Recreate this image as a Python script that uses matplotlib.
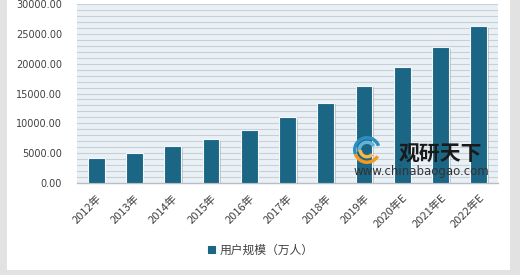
import matplotlib
matplotlib.use("Agg")
import matplotlib.pyplot as plt
import matplotlib.patheffects as pe
from matplotlib.patches import Rectangle, Wedge
import numpy as np

plt.rcParams['font.family'] = ['Noto Sans CJK SC', 'DejaVu Sans']

categories = ["2012年", "2013年", "2014年", "2015年", "2016年", "2017年",
              "2018年", "2019年", "2020年E", "2021年E", "2022年E"]
values = [4160, 5000, 6120, 7360, 8820, 11000, 13480, 16340, 19490, 22800, 26340]
series_name = "用户规模（万人）"
yticks = [0, 5000, 10000, 15000, 20000, 25000, 30000]

W, H = 520, 275
fig = plt.figure(figsize=(W / 100, H / 100), dpi=100, facecolor="#e2e2e2")
# white panel
fig.patches.append(Rectangle((7 / W, 5 / H), 503 / W, 1 - 5 / H, transform=fig.transFigure,
                             facecolor="white", edgecolor="none", zorder=-5))

ax = fig.add_axes([77 / W, 1 - 183 / H, 421 / W, 179 / H])
ax.set_facecolor("#eaf1f6")
x = np.arange(len(categories))
bars = ax.bar(x, values, width=0.44, color="#1b6585", edgecolor="#f4f7f9", linewidth=0.8, zorder=3)
for b in bars:
    b.set_path_effects([pe.SimplePatchShadow(offset=(1.2, -1.2), shadow_rgbFace="#9aa3a8", alpha=0.5), pe.Normal()])

ax.set_xlim(-0.5, len(categories) - 0.5)
ax.set_ylim(0, 30000)
ax.set_yticks(yticks)
ax.set_yticklabels([f"{v:.2f}" for v in yticks], fontsize=7, color="#404040", family="DejaVu Sans")
ax.set_yticks(np.arange(0, 30001, 1000), minor=True)
ax.grid(axis="y", which="both", color="#c9d0d5", linewidth=0.8, zorder=0)
ax.set_xticks(x)
ax.set_xticklabels(categories, rotation=45, ha="right", rotation_mode="anchor", fontsize=8, color="#404040")
ax.tick_params(axis="both", which="both", length=0)
ax.tick_params(axis="x", pad=7)
ax.tick_params(axis="y", pad=10.8)
for s in ["top", "right", "left"]:
    ax.spines[s].set_visible(False)
ax.spines["bottom"].set_color("#b8bec2")
ax.spines["bottom"].set_linewidth(1.0)

# watermark logo (simplified), drawn in inch coordinates to stay round
cx, cy = 3.67, (H - 150) / 100
for (r, th1, th2, col) in [(0.14, 20, 200, "#2a8fc0"), (0.095, 30, 190, "#62b3d9"),
                           (0.14, 200, 330, "#f39a1e"), (0.085, 180, 320, "#f7b84a")]:
    fig.patches.append(Wedge((cx, cy), r, th1, th2, width=0.035, transform=fig.dpi_scale_trans,
                             facecolor=col, edgecolor="none", zorder=10))
fig.text(440 / W, 1 - 154 / H, "观研天下", fontsize=15, fontweight="bold", color="#1a1a1a",
         ha="center", va="center", zorder=10)
fig.text(421 / W, 1 - 172 / H, "www.chinabaogao.com", fontsize=8.5, color="#333333",
         ha="center", va="center", family="DejaVu Sans", zorder=10)

leg = ax.legend([bars], [series_name], loc="center", bbox_to_anchor=(261 / W, 1 - 250 / H),
                bbox_transform=fig.transFigure, frameon=True, fontsize=8.5, handlelength=0.6,
                handleheight=0.6, handletextpad=0.4, borderpad=0.5)
leg.get_frame().set_edgecolor("white")
leg.get_frame().set_facecolor("white")
for t in leg.get_texts():
    t.set_color("#404040")
for h in leg.legend_handles:
    h.set_path_effects([])
    h.set_edgecolor("#1b6585")

fig.savefig("out.png", dpi=100, facecolor=fig.get_facecolor())
